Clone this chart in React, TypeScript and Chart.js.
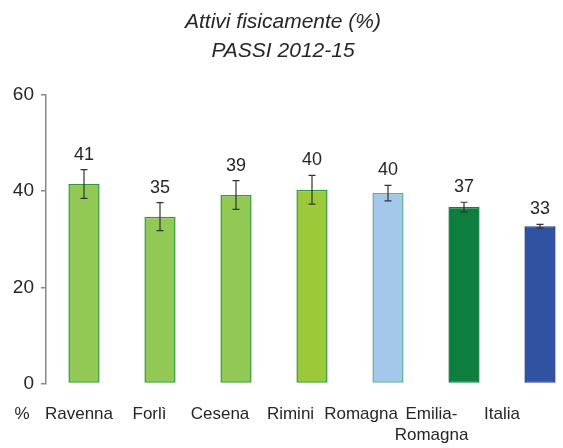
import React, { useEffect, useRef } from "react";
import { Chart, registerables } from "chart.js";

Chart.register(...registerables);

const categories: (string | string[])[] = ["Ravenna", "Forlì", "Cesena", "Rimini", "Romagna", ["Emilia-", "Romagna"], "Italia"];
const values = [41.5, 34.7, 39.2, 40.3, 39.6, 36.7, 32.7];
const errors = [3.0, 2.9, 3.0, 3.0, 1.6, 1.0, 0.4];
const valueLabels = ["41", "35", "39", "40", "40", "37", "33"];
const fillColors = ["#92C954", "#92C954", "#92C954", "#9BC93A", "#A3C8EC", "#0E7E3E", "#2F52A3"];
const borderColors = ["#2E9A3A", "#2E9A3A", "#2E9A3A", "#2E9A3A", "#5DB08E", "#0E7E3E", "#2A3D8E"];
const yTicks = [0, 20, 40, 60];
const titleLines = ["Attivi fisicamente (%)", "PASSI 2012-15"];
const unitLabel = "%";

const FONT = "'Liberation Sans', Arial, sans-serif";
const TEXT = "#262626";

// category label band (labels in the reference sit on a slightly narrower band than the bars)
const LABEL_BAND_LEFT = 43.75;
const LABEL_BAND_RIGHT = 537.25;

const labelBandPlugin = {
  id: "labelBand",
  afterLayout(chart: any) {
    const s = chart.scales.xl;
    if (!s) return;
    s.left = LABEL_BAND_LEFT;
    s.right = LABEL_BAND_RIGHT;
    s.width = LABEL_BAND_RIGHT - LABEL_BAND_LEFT;
    s.configure();
  },
};

const overlayPlugin = {
  id: "overlay",
  afterDatasetsDraw(chart: any) {
    const ctx = chart.ctx;
    const y = chart.scales.y;
    const meta = chart.getDatasetMeta(0);
    ctx.save();
    ctx.strokeStyle = "#333333";
    ctx.lineWidth = 1.2;
    meta.data.forEach((bar: any, i: number) => {
      const x = bar.x;
      const top = y.getPixelForValue(values[i] + errors[i]);
      const bot = y.getPixelForValue(values[i] - errors[i]);
      ctx.beginPath();
      ctx.moveTo(x, top);
      ctx.lineTo(x, bot);
      ctx.moveTo(x - 3.5, top);
      ctx.lineTo(x + 3.5, top);
      ctx.moveTo(x - 3.5, bot);
      ctx.lineTo(x + 3.5, bot);
      ctx.stroke();
      ctx.fillStyle = TEXT;
      ctx.font = `18px ${FONT}`;
      ctx.textAlign = "center";
      ctx.textBaseline = "alphabetic";
      ctx.fillText(valueLabels[i], x, top - 10);
    });
    ctx.font = `17px ${FONT}`;
    ctx.textAlign = "center";
    ctx.textBaseline = "top";
    ctx.fillStyle = TEXT;
    ctx.fillText(unitLabel, 22, chart.chartArea.bottom + 22);
    ctx.font = `italic 21px ${FONT}`;
    ctx.textBaseline = "alphabetic";
    ctx.fillText(titleLines[0], 283, 28);
    ctx.fillText(titleLines[1], 283, 57);
    ctx.restore();
  },
};

export default function App() {
  const ref = useRef<HTMLCanvasElement>(null);
  useEffect(() => {
    if (!ref.current) return;
    const chart = new Chart(ref.current, {
      type: "bar",
      data: {
        labels: categories as any,
        datasets: [
          {
            data: values,
            backgroundColor: fillColors,
            borderColor: borderColors,
            borderWidth: 1.5,
            borderSkipped: false,
            barPercentage: 1,
            categoryPercentage: 0.41,
          },
        ],
      },
      options: {
        animation: false,
        responsive: false,
        devicePixelRatio: 1,
        layout: { padding: { top: 95, left: 0, right: 0, bottom: 0 } },
        plugins: { legend: { display: false }, tooltip: { enabled: false }, title: { display: false } },
        scales: {
          x: {
            display: false,
          },
          xl: {
            type: "category",
            position: "bottom",
            labels: categories as any,
            offset: true,
            grid: { display: false },
            border: { display: false },
            ticks: { color: TEXT, font: { family: FONT, size: 17 }, padding: 13, maxRotation: 0, autoSkip: false },
            afterFit: (s: any) => { s.height = 64.5; },
          },
          y: {
            min: 0,
            max: 60,
            afterBuildTicks: (s: any) => { s.ticks = yTicks.map((v) => ({ value: v })); },
            grid: { display: true, drawOnChartArea: false, drawTicks: true, tickLength: 5, color: "#888888", lineWidth: 1.5 },
            border: { display: true, color: "#888888", width: 1.5 },
            ticks: { color: TEXT, font: { family: FONT, size: 19 }, padding: 7 },
            afterFit: (s: any) => { s.width = 46; },
          },
        },
      } as any,
      plugins: [labelBandPlugin, overlayPlugin],
    });
    return () => chart.destroy();
  }, []);
  return (
    <div style={{ position: "absolute", left: 0, top: 0, width: 563, height: 448, overflow: "hidden", background: "#fff" }}>
      <canvas ref={ref} width={578} height={448} style={{ display: "block", width: 578, height: 448 }} />
    </div>
  );
}
